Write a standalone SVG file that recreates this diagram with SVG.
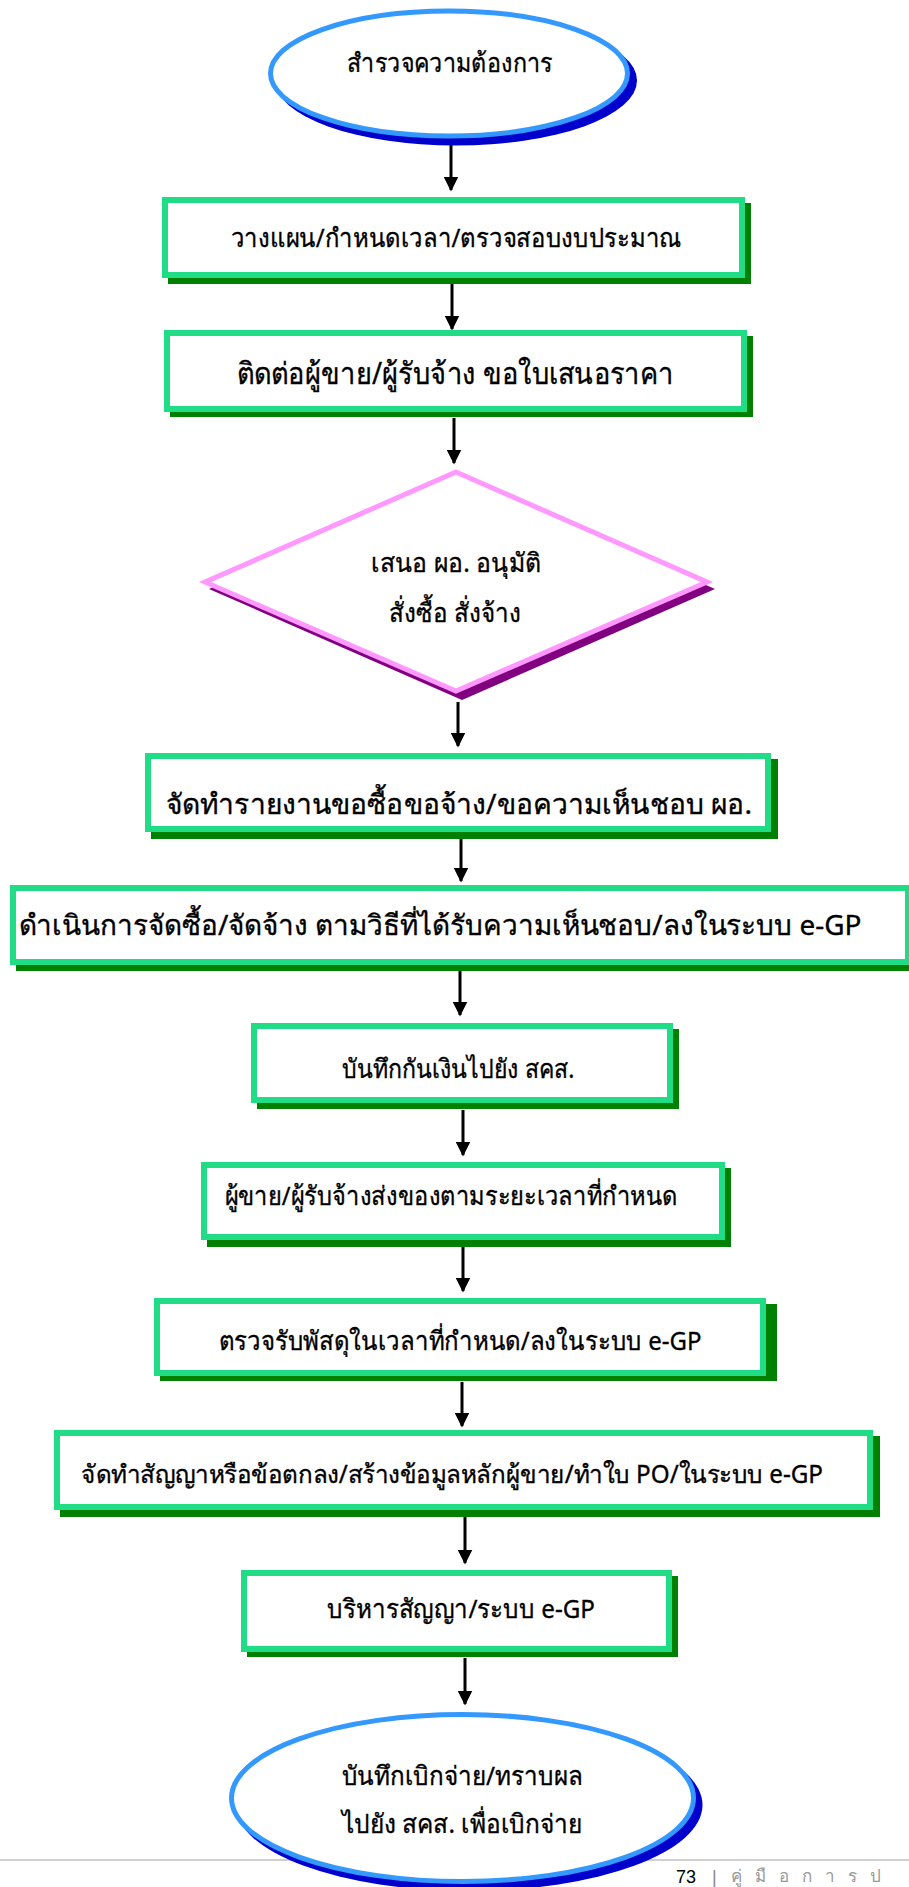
<svg xmlns="http://www.w3.org/2000/svg" width="909" height="1887" viewBox="0 0 909 1887">
  <defs>
    <marker id="ah" markerWidth="5" markerHeight="5" refX="4.5" refY="2.5" orient="auto" markerUnits="strokeWidth">
      <path d="M0,0 L5,2.5 L0,5 Z" fill="#000"/>
    </marker>
  </defs>
  <style>
    .box { fill: #fff; stroke: #1fdc85; stroke-width: 6; }
    .bsh { fill: #008000; }
    .ell { fill: #fff; stroke: #3399ff; stroke-width: 5; }
    .esh { fill: #0000cc; }
    .dia { fill: #fff; stroke: #ff99ff; stroke-width: 5; stroke-linejoin: miter; }
    .dsh { fill: #800080; }
    .t { font-family: "Noto Sans", "DejaVu Sans", sans-serif; font-size: 26px; fill: #000; stroke: #000; stroke-width: 0.35px; text-anchor: middle; }
    .big { font-size: 30px; }
    .tall { font-size: 28px; }
    .sm { font-size: 24px; }
    .con { stroke: #000; stroke-width: 3; fill: none; marker-end: url(#ah); }
  </style>

  <g id="footer">
    <line x1="0" y1="1860" x2="909" y2="1860" stroke="#d0d0d0" stroke-width="2"/>
    <text x="676" y="1883" font-family="Liberation Sans, sans-serif" font-size="18" fill="#000">73</text>
    <text x="712" y="1883" font-family="Liberation Sans, sans-serif" font-size="18" fill="#888">|</text>
    <text x="731" y="1882" font-family="Noto Sans, sans-serif" font-size="17" fill="#999" letter-spacing="13">คู่มือการป</text>
  </g>

  <g id="connectors">
    <line class="con" x1="451" y1="141" x2="451" y2="190"/>
    <line class="con" x1="452" y1="284" x2="452" y2="329"/>
    <line class="con" x1="454" y1="418" x2="454" y2="463"/>
    <line class="con" x1="458" y1="702" x2="458" y2="746"/>
    <line class="con" x1="461" y1="838" x2="461" y2="881"/>
    <line class="con" x1="460" y1="970" x2="460" y2="1015"/>
    <line class="con" x1="463" y1="1110" x2="463" y2="1155"/>
    <line class="con" x1="463" y1="1247" x2="463" y2="1291"/>
    <line class="con" x1="462" y1="1382" x2="462" y2="1426"/>
    <line class="con" x1="465" y1="1517" x2="465" y2="1563"/>
    <line class="con" x1="465" y1="1658" x2="465" y2="1704"/>
  </g>

  <g id="n1">
    <ellipse class="esh" cx="456" cy="80.5" rx="181" ry="65"/>
    <ellipse class="ell" cx="449" cy="73.5" rx="178.5" ry="62.5"/>
    <text class="t" x="450" y="72" textLength="206" lengthAdjust="spacingAndGlyphs">สำรวจความต้องการ</text>
  </g>

  <g id="n2">
    <rect class="bsh" x="168" y="203" width="583" height="81"/>
    <rect class="box" x="165" y="200" width="577" height="75"/>
    <text class="t" x="456" y="247" textLength="451" lengthAdjust="spacingAndGlyphs">วางแผน/กำหนดเวลา/ตรวจสอบงบประมาณ</text>
  </g>

  <g id="n3">
    <rect class="bsh" x="170" y="336" width="583" height="81"/>
    <rect class="box" x="167" y="333" width="577" height="76"/>
    <text class="t big" x="455" y="384" textLength="437" lengthAdjust="spacingAndGlyphs">ติดต่อผู้ขาย/ผู้รับจ้าง ขอใบเสนอราคา</text>
  </g>

  <g id="n4">
    <polygon class="dsh" points="462,477 715,589 462,700 209,589"/>
    <polygon class="dia" points="456,472 707,582 456,691 205,582"/>
    <text class="t" x="456" y="572" textLength="170" lengthAdjust="spacingAndGlyphs">เสนอ ผอ. อนุมัติ</text>
    <text class="t" x="455" y="622" textLength="132" lengthAdjust="spacingAndGlyphs">สั่งซื้อ สั่งจ้าง</text>
  </g>

  <g id="n5">
    <rect class="bsh" x="151" y="759" width="627" height="80"/>
    <rect class="box" x="148" y="756" width="620" height="73"/>
    <text class="t tall" x="459" y="814" textLength="586" lengthAdjust="spacingAndGlyphs">จัดทำรายงานขอซื้อขอจ้าง/ขอความเห็นชอบ ผอ.</text>
  </g>

  <g id="n6">
    <rect class="bsh" x="16" y="891" width="901" height="80"/>
    <rect class="box" x="13" y="888" width="895" height="74"/>
    <text class="t tall" x="440" y="935" textLength="843" lengthAdjust="spacingAndGlyphs">ดำเนินการจัดซื้อ/จัดจ้าง ตามวิธีที่ได้รับความเห็นชอบ/ลงในระบบ e-GP</text>
  </g>

  <g id="n7">
    <rect class="bsh" x="257" y="1029" width="422" height="80"/>
    <rect class="box" x="254" y="1026" width="416" height="74"/>
    <text class="t" x="458" y="1078" textLength="233" lengthAdjust="spacingAndGlyphs">บันทึกกันเงินไปยัง สคส.</text>
  </g>

  <g id="n8">
    <rect class="bsh" x="207" y="1168" width="524" height="79"/>
    <rect class="box" x="204" y="1165" width="518" height="72"/>
    <text class="t" x="451" y="1205" textLength="453" lengthAdjust="spacingAndGlyphs">ผู้ขาย/ผู้รับจ้างส่งของตามระยะเวลาที่กำหนด</text>
  </g>

  <g id="n9">
    <rect class="bsh" x="160" y="1304" width="617" height="77"/>
    <rect class="box" x="157" y="1301" width="606" height="72"/>
    <text class="t" x="460" y="1350" textLength="483" lengthAdjust="spacingAndGlyphs">ตรวจรับพัสดุในเวลาที่กำหนด/ลงในระบบ e-GP</text>
  </g>

  <g id="n10">
    <rect class="bsh" x="60" y="1436" width="820" height="81"/>
    <rect class="box" x="57" y="1433" width="813" height="74"/>
    <text class="t" x="452" y="1483" textLength="742" lengthAdjust="spacingAndGlyphs" style="font-size:25px">จัดทำสัญญาหรือข้อตกลง/สร้างข้อมูลหลักผู้ขาย/ทำใบ PO/ในระบบ e-GP</text>
  </g>

  <g id="n11">
    <rect class="bsh" x="247" y="1576" width="431" height="81"/>
    <rect class="box" x="244" y="1573" width="425" height="76"/>
    <text class="t" x="461" y="1618" textLength="268" lengthAdjust="spacingAndGlyphs">บริหารสัญญา/ระบบ e-GP</text>
  </g>

  <g id="n12">
    <ellipse class="esh" cx="469" cy="1805" rx="233.5" ry="86"/>
    <ellipse class="ell" cx="462.5" cy="1798" rx="231" ry="83.5"/>
    <text class="t" x="462" y="1785" textLength="241" lengthAdjust="spacingAndGlyphs">บันทึกเบิกจ่าย/ทราบผล</text>
    <text class="t" x="462" y="1833" textLength="241" lengthAdjust="spacingAndGlyphs">ไปยัง สคส. เพื่อเบิกจ่าย</text>
  </g>
</svg>
